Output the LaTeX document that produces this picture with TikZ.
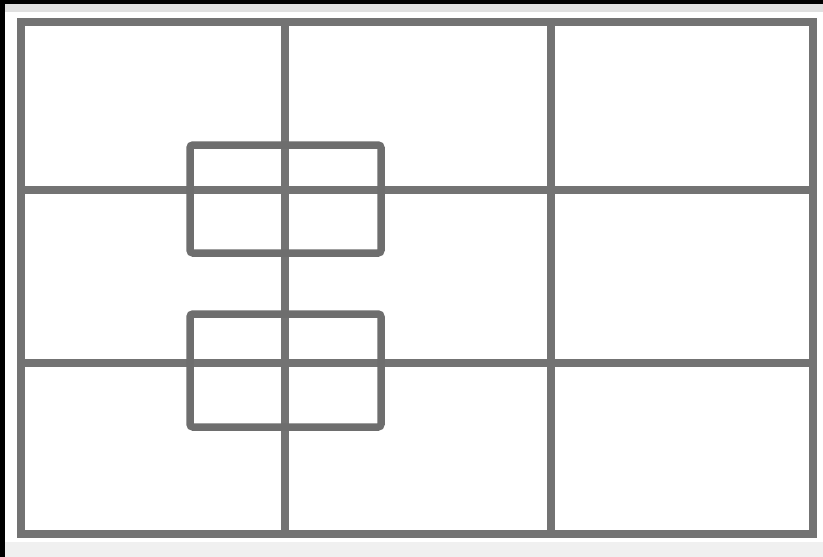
\documentclass[tikz,border=0pt]{standalone}
\begin{document}
\begin{tikzpicture}[x=1pt,y=-1pt,
  gridline/.style={draw=black!55,line width=8pt},
  boxline/.style={draw=black!57,line width=7.5pt,rounded corners=3pt}]
\useasboundingbox (0,0) rectangle (823,557);
\fill[white] (0,0) rectangle (823,557);
% dark edge bands of the scan
\fill[black!12] (0,0) rectangle (823,12);
\fill[black] (0,0) rectangle (823,4);
\fill[black] (0,0) rectangle (5,557);
\fill[black!6] (5,542) rectangle (823,557);
% grid
\draw[gridline] (21,22) rectangle (813,534);
\draw[gridline] (285,22) -- (285,534);
\draw[gridline] (551,22) -- (551,534);
\draw[gridline] (21,190) -- (813,190);
\draw[gridline] (21,363) -- (813,363);
% boxes
\draw[boxline] (190,145) rectangle (381,253);
\draw[boxline] (190,314) rectangle (381,427);
\end{tikzpicture}
\end{document}
